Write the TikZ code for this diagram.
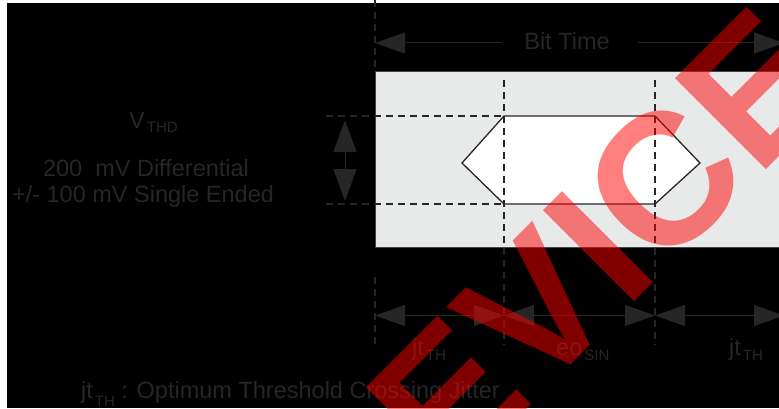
\documentclass[tikz,border=0pt]{standalone}
\usepackage{fontspec}
\setmainfont{Liberation Sans}
\usetikzlibrary{arrows.meta}
\definecolor{ink}{HTML}{262626}
\definecolor{bandgray}{HTML}{E8E9E9}
\definecolor{edgegray}{HTML}{454545}
\newcommand{\subtxt}[2][5pt]{\kern2pt\raisebox{-#1}{\fontsize{15}{15}\selectfont #2}}

\begin{document}
\begin{tikzpicture}[x=1pt,y=1pt,
  lbl/.style={text=ink,font=\fontsize{23.5}{25}\selectfont,inner sep=0pt},
  guide_line/.style={draw=ink,line width=1.4pt,dash pattern=on 7pt off 5pt},
  dim_arrow/.style={draw=ink,line width=1pt,{Triangle[length=30pt,width=21pt]}-{Triangle[length=30pt,width=21pt]}},
  end_arrow/.style={draw=ink,line width=1pt,-{Triangle[length=30pt,width=21pt]}},
  stamp/.style={text=red,text opacity=0.5,font=\fontsize{187}{187}\selectfont\bfseries,inner sep=0pt,rotate=45,anchor=base west}]

	\useasboundingbox (0,0) rectangle (779,408);
	\clip (0,0) rectangle (779,408);
	\fill[white] (0,0) rectangle (779,408);
	\fill[black] (7,0) rectangle (779,405);

	% bit cell band
	\filldraw[fill=bandgray,draw=edgegray,line width=1pt] (375,161) rectangle (800,336);

	% eye opening
	\coordinate (e1) at (462,245);
	\coordinate (e2) at (504,292);
	\coordinate (e3) at (655,292);
	\coordinate (e4) at (700,245);
	\coordinate (e5) at (655,204);
	\coordinate (e6) at (504,204);
	\draw[fill=white,draw=ink,line width=1.3pt] (e1) -- (e2) -- (e3) -- (e4) -- (e5) -- (e6) -- cycle;

	% guide lines
	\coordinate (a0) at (375,408);
	\coordinate (a1) at (375,336);
	\coordinate (a2) at (375,131);
	\coordinate (a3) at (375,63);
	\coordinate (b0) at (504,328);
	\coordinate (b1) at (504,63);
	\coordinate (c0) at (655,328);
	\coordinate (c1) at (655,63);
	\coordinate (h0) at (326,292);
	\coordinate (h1) at (326,204);
	\draw[guide_line] (a0) -- (a1);
	\draw[guide_line] (a2) -- (a3);
	\draw[guide_line] (b0) -- (b1);
	\draw[guide_line] (c0) -- (c1);
	\draw[guide_line] (h0) -- (e2);
	\draw[guide_line] (h1) -- (e6);

	% bit time
	\node[lbl,anchor=base] (bt) at (567,358) {Bit Time};
	\coordinate (g0) at (501,365);
	\coordinate (g1) at (638,365);
	\coordinate (p0) at (375,365);
	\coordinate (p1) at (784,365);
	\draw[end_arrow] (g0) -- (p0);
	\draw[end_arrow] (g1) -- (p1);

	% threshold
	\coordinate (v0) at (345,288);
	\coordinate (v1) at (345,207);
	\draw[draw=ink,line width=1pt,{Triangle[length=32pt,width=23pt]}-{Triangle[length=32pt,width=23pt]}] (v0) -- (v1);
	\node[lbl,anchor=base west] (vthd) at (129,280) {V\subtxt[4pt]{THD}};
	\node[lbl,anchor=base] (diff) at (146,231.5) {200\ \ mV Differential};
	\node[lbl,anchor=base] (single) at (143,206) {+/- 100 mV Single Ended};

	% jitter and eye opening
	\coordinate (t0) at (375,92.5);
	\coordinate (t1) at (504,92.5);
	\coordinate (t2) at (655,92.5);
	\coordinate (t3) at (784,92.5);
	\draw[dim_arrow] (t0) -- (t1);
	\draw[dim_arrow] (t1) -- (t2);
	\draw[dim_arrow] (t2) -- (t3);
	\node[lbl,anchor=base west] (jt1) at (412,53) {jt\subtxt{TH}};
	\node[lbl,anchor=base west] (eo) at (556,53) {eo\subtxt{SIN}};
	\node[lbl,anchor=base west] (jt2) at (729,53) {jt\subtxt{TH}};

	\node[lbl,anchor=base west] (key) at (81,10) {jt\subtxt[8pt]{TH} : Optimum Threshold Crossing Jitter};

	% stamp
	\node[stamp] (mark) at (448.5,-79.5) {EVICE};
\end{tikzpicture}
\end{document}
